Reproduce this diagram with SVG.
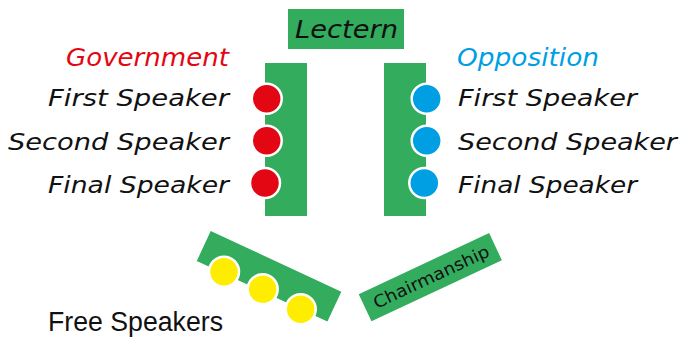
<svg xmlns="http://www.w3.org/2000/svg" width="681" height="338" viewBox="0 0 681 338">
<style>
.bar{fill:#33AC5E}
.lbl{font-family:"DejaVu Sans","Liberation Sans",sans-serif;font-style:italic;font-size:23.5px;fill:#111}
.head{font-family:"DejaVu Sans","Liberation Sans",sans-serif;font-style:italic;font-size:25px}
.red{fill:#E30613;stroke:#fff;stroke-width:2.5}
.blue{fill:#009FE3;stroke:#fff;stroke-width:2.5}
.yel{fill:#FFED00;stroke:#fff;stroke-width:2.5}
</style>
<rect width="681" height="338" fill="#fff"/>
<g id="lectern">
<rect class="bar" x="288" y="9" width="116" height="40"/>
<text class="head" x="346.5" y="38" text-anchor="middle" fill="#111" textLength="103" lengthAdjust="spacingAndGlyphs">Lectern</text>
</g>
<g id="government">
<rect class="bar" x="265" y="63" width="42" height="153"/>
<circle class="red" cx="266.7" cy="98.7" r="15"/>
<circle class="red" cx="266.7" cy="140.7" r="15"/>
<circle class="red" cx="265" cy="183" r="15"/>
<text class="head" x="229" y="66" text-anchor="end" fill="#E30613" textLength="163" lengthAdjust="spacingAndGlyphs">Government</text>
<text class="lbl" x="229" y="106" text-anchor="end" textLength="181" lengthAdjust="spacingAndGlyphs">First Speaker</text>
<text class="lbl" x="229" y="150" text-anchor="end" textLength="221" lengthAdjust="spacingAndGlyphs">Second Speaker</text>
<text class="lbl" x="229" y="193" text-anchor="end" textLength="181" lengthAdjust="spacingAndGlyphs">Final Speaker</text>
</g>
<g id="opposition">
<rect class="bar" x="384" y="63" width="42" height="153"/>
<circle class="blue" cx="426.7" cy="98.7" r="15"/>
<circle class="blue" cx="426.7" cy="140.7" r="15"/>
<circle class="blue" cx="424.3" cy="183" r="15"/>
<text class="head" x="457" y="66" fill="#009FE3" textLength="142" lengthAdjust="spacingAndGlyphs">Opposition</text>
<text class="lbl" x="458" y="106" textLength="179" lengthAdjust="spacingAndGlyphs">First Speaker</text>
<text class="lbl" x="458" y="150" textLength="219" lengthAdjust="spacingAndGlyphs">Second Speaker</text>
<text class="lbl" x="458" y="193" textLength="179" lengthAdjust="spacingAndGlyphs">Final Speaker</text>
</g>
<g id="free-speakers">
<rect class="bar" x="0" y="0" width="144" height="33" transform="translate(210.7,231) rotate(24.9)"/>
<circle class="yel" cx="224" cy="271.7" r="15"/>
<circle class="yel" cx="262.7" cy="289.3" r="15"/>
<circle class="yel" cx="300.7" cy="309.3" r="15"/>
<text x="48" y="331" font-family="'Liberation Sans',Arial,sans-serif" font-size="27" fill="#111" textLength="175" lengthAdjust="spacingAndGlyphs">Free Speakers</text>
</g>
<g id="chairmanship">
<g transform="translate(430.3,277.2) rotate(-25.1)">
<rect class="bar" x="-72" y="-15" width="144" height="30"/>
<text x="1" y="6" text-anchor="middle" font-family="'DejaVu Sans','Liberation Sans',sans-serif" font-size="17" fill="#111" textLength="126" lengthAdjust="spacingAndGlyphs">Chairmanship</text>
</g>
</g>
</svg>
